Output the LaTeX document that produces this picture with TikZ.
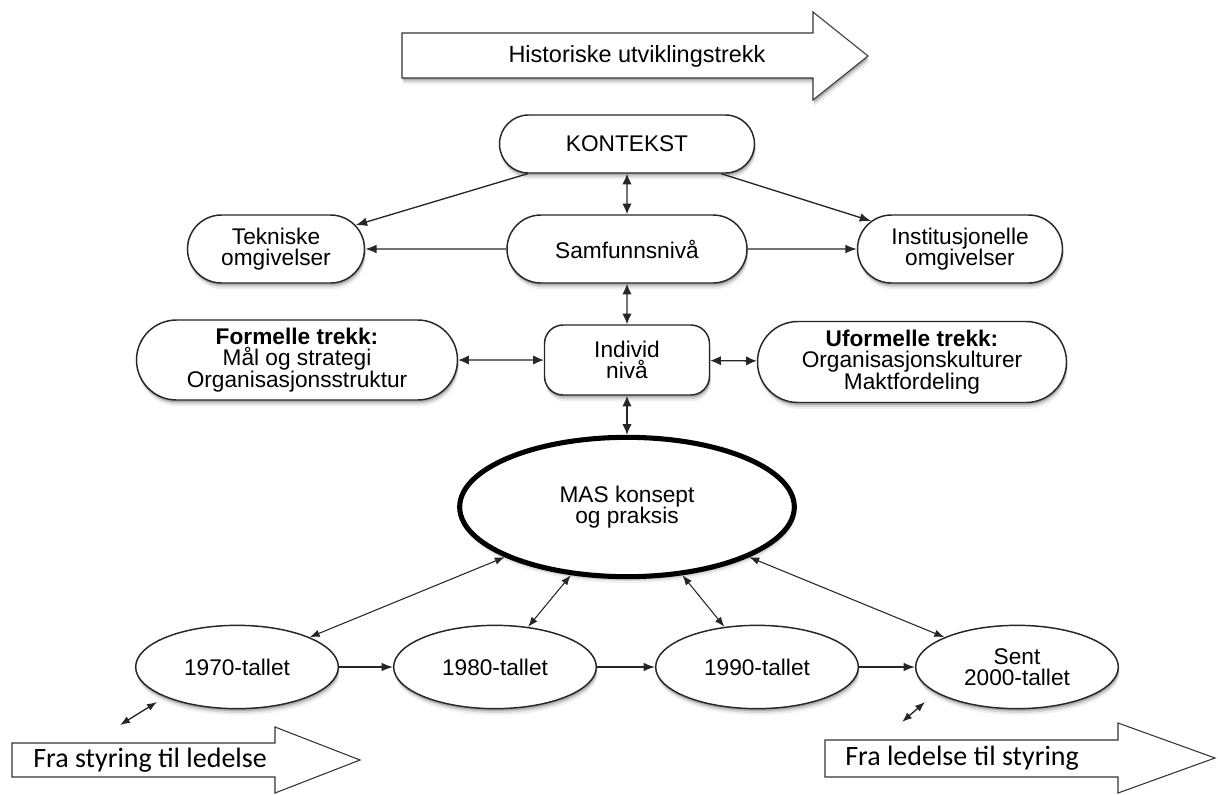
\documentclass[tikz,border=0pt]{standalone}
\usepackage{fontspec}
\setmainfont{Liberation Sans}
\newfontfamily\calib{Carlito}
\usetikzlibrary{shapes.misc,shapes.geometric,arrows.meta,shadows}
\tikzset{
  softshadow/.style={
    general shadow={shadow xshift=0.5pt,shadow yshift=-1.8pt,fill=black,opacity=0.18},
    general shadow={shadow xshift=0.8pt,shadow yshift=-3.2pt,fill=black,opacity=0.11},
    general shadow={shadow xshift=1pt,shadow yshift=-4.8pt,fill=black,opacity=0.06}},
  lbl/.style={font=\fontsize{17}{16}\selectfont, align=center},
  stad/.style={rounded rectangle, draw=black!85, line width=1.1pt, fill=white,
    inner sep=0pt, lbl, softshadow},
  rbox/.style={rectangle, rounded corners=14pt, draw=black!85, line width=1.1pt, fill=white,
    inner sep=0pt, lbl, softshadow},
  per/.style={ellipse, draw=black!85, line width=1.1pt, fill=white, inner sep=0pt,
    minimum width=152pt, minimum height=62.5pt, lbl, softshadow},
  big/.style={ellipse, draw=black, line width=3.8pt, fill=white, inner sep=0pt,
    minimum width=251pt, minimum height=104.5pt, lbl, softshadow},
  arr/.style={-{Latex[length=8.5pt,width=6.5pt]}, line width=1pt, draw=black!85},
  darr/.style={{Latex[length=8pt,width=7pt]}-{Latex[length=8pt,width=7pt]}, line width=1pt, draw=black!85},
  sarr/.style={{Latex[length=7.5pt,width=5.6pt]}-{Latex[length=7.5pt,width=5.6pt]}, line width=0.8pt, draw=black!85},
  bigarrow/.style={draw=black!80, line width=0.8pt, fill=white},
}
\begin{document}
\begin{tikzpicture}[x=0.75pt,y=-0.75pt]
\useasboundingbox (0,0) rectangle (1218,794);

% top arrow
\draw[bigarrow, softshadow] (402,33) -- (813,33) -- (813,12) -- (868,56) -- (813,100)
  -- (813,78) -- (402,78) -- cycle;
\node[lbl, font=\fontsize{17.6}{17}\selectfont, inner sep=0pt] (hist) at (637,56) {Historiske utviklingstrekk};

% boxes
\node[stad, minimum width=191.25pt, minimum height=43.5pt] (kon) at (627,144) {KONTEKST};
\node[stad, minimum width=180pt, minimum height=51pt] (sam) at (627,249) {Samfunnsnivå};
\node[stad, minimum width=132.75pt, minimum height=51pt] (tek) at (276,249) {Tekniske\\omgivelser};
\node[stad, minimum width=153.75pt, minimum height=51pt] (ins) at (960,249) {Institusjonelle\\omgivelser};
\node[stad, minimum width=240.75pt, minimum height=60pt] (for) at (297,360)
  {\textbf{Formelle trekk:}\\Mål og strategi\\Organisasjonsstruktur};
\node[rbox, minimum width=123.75pt, minimum height=52.5pt] (ind) at (627,360) {Individ\\nivå};
\node[stad, minimum width=231.75pt, minimum height=60.75pt] (ufo) at (912,362)
  {\textbf{Uformelle trekk:}\\Organisasjonskulturer\\Maktfordeling};

\node[big] (mas) at (627,507) {MAS konsept\\og praksis};

\node[per] (p70) at (237,667) {1970-tallet};
\node[per] (p80) at (495,667) {1980-tallet};
\node[per] (p90) at (757,667) {1990-tallet};
\node[per] (p00) at (1017,667) {Sent\\2000-tallet};

% connectors
\draw[darr] (kon) -- (sam);
\draw[arr] (kon) -- (tek);
\draw[arr] (kon) -- (ins);
\draw[arr] (sam) -- (tek);
\draw[arr] (sam) -- (ins);
\draw[darr] (sam) -- (ind);
\draw[darr] (for) -- (ind);
\draw[darr] (ind) -- (ufo);
\draw[darr] (ind) -- (mas);

\draw[sarr] (mas) -- (p70);
\draw[sarr] (mas) -- (p80);
\draw[sarr] (mas) -- (p90);
\draw[sarr] (mas) -- (p00);

\draw[arr] (p70) -- (p80);
\draw[arr] (p80) -- (p90);
\draw[arr] (p90) -- (p00);

% small free arrows
\coordinate (la) at (120,725);
\coordinate (lb) at (157,702);
\coordinate (ra) at (902,722);
\coordinate (rb) at (925,702);
\draw[sarr, line width=1pt] (la) -- (lb);
\draw[sarr, line width=1pt] (ra) -- (rb);

% bottom arrows
\draw[bigarrow] (12,743) -- (275,743) -- (275,727) -- (360,760) -- (275,793)
  -- (275,777) -- (12,777) -- cycle;
\node[anchor=west, inner sep=0pt, font=\calib\fontsize{21}{21}\selectfont] (fsl) at (33,760)
  {Fra styring til ledelse};
\draw[bigarrow] (825,740) -- (1118,740) -- (1118,723) -- (1215,758) -- (1118,793)
  -- (1118,777) -- (825,777) -- cycle;
\node[anchor=west, inner sep=0pt, font=\calib\fontsize{21}{21}\selectfont] (fls) at (845,758)
  {Fra ledelse til styring};
\end{tikzpicture}
\end{document}
